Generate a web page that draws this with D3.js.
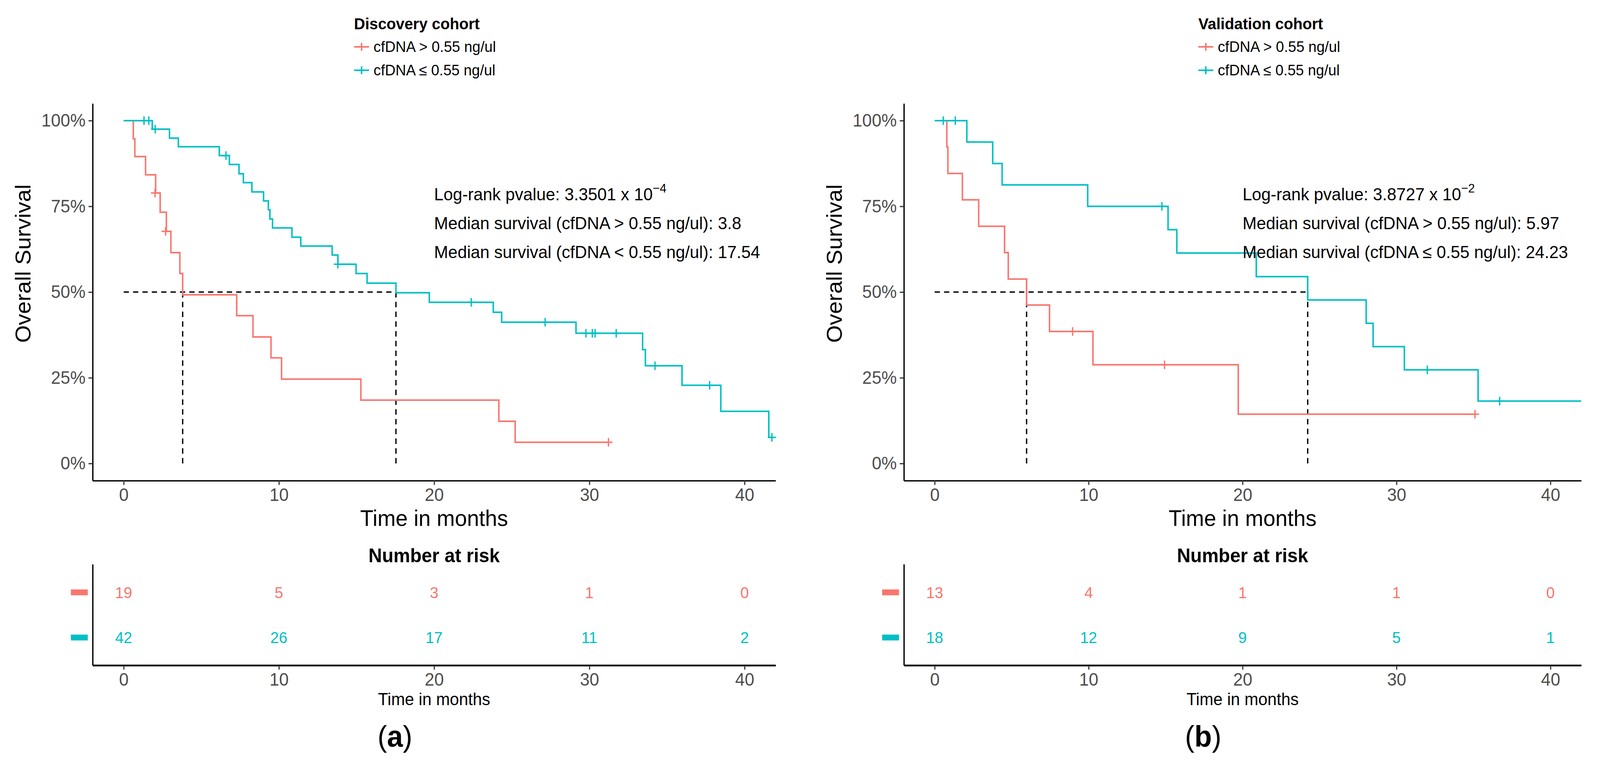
<!DOCTYPE html>
<html>
<head>
<meta charset="utf-8">
<script src="https://cdn.jsdelivr.net/npm/d3@7/dist/d3.min.js"></script>
<style>
html, body { margin: 0; padding: 0; background: #fff; overflow: hidden; }
svg { display: block; width: 100vw; height: 100vh; }
text { font-family: "Liberation Sans", Arial, sans-serif; }
</style>
</head>
<body>
<svg id="chart" viewBox="0 0 4266 1967" preserveAspectRatio="none"></svg>
<script>
// ---- values ----
const groupNames = ["cfDNA > 0.55 ng/ul", "cfDNA \u2264 0.55 ng/ul"];
const groupColors = ["#F8766D", "#00BFC4"];
const yTicks = [0, 25, 50, 75, 100];
const xTicks = [0, 10, 20, 30, 40];

// Discovery cohort, cfDNA > 0.55 (step start times in months, survival %)
const discHighTime = [0, 0.62, 0.72, 1.41, 2.06, 2.35, 2.75, 3.04, 3.62, 3.80, 7.28, 8.33, 9.49, 10.17, 15.28, 24.17, 25.22];
const discHighSurv = [100, 94.7, 89.5, 84.2, 78.9, 73.3, 67.7, 61.5, 55.4, 49.2, 43.1, 36.9, 30.8, 24.6, 18.5, 12.3, 6.2];
const discHighEnd = 31.23;
const discHighCensTime = [2.02, 2.70, 31.23];
const discHighCensSurv = [78.9, 67.7, 6.2];

// Discovery cohort, cfDNA <= 0.55
const discLowTime = [0, 1.84, 2.95, 3.52, 6.16, 6.81, 7.43, 7.71, 8.26, 9.01, 9.32, 9.42, 9.59, 10.84, 11.41, 13.43, 13.80, 14.97, 15.68, 17.54, 19.69, 23.81, 24.35, 29.14, 33.43, 33.61, 35.97, 38.47, 41.56];
const discLowSurv = [100, 97.5, 94.9, 92.4, 89.8, 87.2, 84.5, 81.9, 79.2, 76.6, 74.0, 71.3, 68.7, 66.0, 63.4, 60.8, 58.1, 55.4, 52.6, 49.8, 47.0, 44.1, 41.2, 38.0, 33.2, 28.5, 22.8, 15.2, 7.6];
const discLowEnd = 41.76;
const discLowCensTime = [1.31, 1.62, 2.03, 6.59, 13.80, 22.39, 27.15, 29.78, 30.19, 30.37, 31.73, 34.23, 37.75, 41.76];
const discLowCensSurv = [100, 100, 97.5, 89.8, 58.1, 47.0, 41.2, 38.0, 38.0, 38.0, 38.0, 28.5, 22.8, 7.6];

// Validation cohort, cfDNA > 0.55
const valHighTime = [0, 0.79, 0.86, 1.80, 2.86, 4.54, 4.78, 5.97, 7.46, 10.28, 19.72];
const valHighSurv = [100, 92.3, 84.6, 76.9, 69.2, 61.5, 53.8, 46.2, 38.5, 28.8, 14.4];
const valHighEnd = 35.1;
const valHighCensTime = [8.96, 14.93, 35.1];
const valHighCensSurv = [38.5, 28.8, 14.4];

// Validation cohort, cfDNA <= 0.55
const valLowTime = [0, 2.09, 3.77, 4.38, 9.94, 15.16, 15.73, 20.89, 24.23, 28.03, 28.48, 30.51, 35.30];
const valLowSurv = [100, 93.75, 87.5, 81.25, 75.0, 68.2, 61.4, 54.5, 47.7, 40.9, 34.1, 27.3, 18.2];
const valLowEnd = 42;
const valLowCensTime = [0.56, 1.34, 14.76, 32.0, 36.7];
const valLowCensSurv = [100, 100, 75.0, 27.3, 18.2];

// medians (months)
const discMedians = [3.8, 17.54];
const valMedians = [5.97, 24.23];

// number at risk
const riskTimes = [0, 10, 20, 30, 40];
const discRiskHigh = [19, 5, 3, 1, 0];
const discRiskLow = [42, 26, 17, 11, 2];
const valRiskHigh = [13, 4, 1, 1, 0];
const valRiskLow = [18, 12, 9, 5, 1];

// annotation lines: [text, superscript]
const discNotes = [["Log-rank pvalue: 3.3501 x 10", "\u22124"], ["Median survival (cfDNA > 0.55 ng/ul): 3.8", ""], ["Median survival (cfDNA < 0.55 ng/ul): 17.54", ""]];
const valNotes = [["Log-rank pvalue: 3.8727 x 10", "\u22122"], ["Median survival (cfDNA > 0.55 ng/ul): 5.97", ""], ["Median survival (cfDNA \u2264 0.55 ng/ul): 24.23", ""]];

const svg = d3.select("#chart");

class SurvivalPanel {
    constructor(opts) {
        this.o = opts;
        // same x domain for curve panel and risk table (ggplot 5% expansion of 0..40)
        this.x = d3.scaleLinear().domain([-2, 42]).range([opts.left, opts.right]);
        this.y = d3.scaleLinear().domain([-5, 105]).range([1231, 265]);
        this.g = svg.append("g");
        this.cx = (opts.left + opts.right) / 2;
    }

    draw() {
        this.drawLegend();
        this.drawAxes();
        this.drawMedians();
        this.drawCurves();
        this.drawNotes();
        this.drawRiskTable();
        this.drawTag();
    }

    drawLegend() {
        const lx = this.o.legendX;
        const lg = this.g.append("g");
        lg.append("text").attr("x", lx).attr("y", 75)
            .attr("font-size", 41).attr("font-weight", "bold").text(this.o.title);
        groupNames.forEach((name, i) => {
            const ky = 120 + i * 60;
            lg.append("path")
                .attr("d", `M${lx},${ky}H${lx + 40}M${lx + 20},${ky - 10}V${ky + 10}`)
                .attr("stroke", groupColors[i]).attr("stroke-width", 4).attr("fill", "none");
            lg.append("text").attr("x", lx + 52).attr("y", ky + 13)
                .attr("font-size", 39).attr("fill", "#000").text(name);
        });
    }

    drawAxes() {
        const xAxis = d3.axisBottom(this.x).tickValues(xTicks).tickSize(11).tickSizeOuter(0).tickPadding(8);
        const yAxis = d3.axisLeft(this.y).tickValues(yTicks).tickFormat(d => d + "%").tickSize(11).tickSizeOuter(0).tickPadding(8);

        const gx = this.g.append("g").attr("transform", "translate(0,1231)").call(xAxis);
        const gy = this.g.append("g").attr("transform", `translate(${this.o.left},0)`).call(yAxis);
        [gx, gy].forEach(a => {
            a.select(".domain").attr("stroke", "#000").attr("stroke-width", 3.5);
            a.selectAll(".tick line").attr("stroke", "#333").attr("stroke-width", 3);
            a.selectAll(".tick text").attr("font-size", 46).attr("fill", "#4D4D4D")
                .attr("font-family", "Liberation Sans, Arial, sans-serif");
        });

        this.g.append("text").attr("x", this.cx).attr("y", 1347)
            .attr("text-anchor", "middle").attr("font-size", 58).text("Time in months");
        this.g.append("text")
            .attr("transform", `translate(${this.o.left - 166},675) rotate(-90)`)
            .attr("text-anchor", "middle").attr("font-size", 58).text("Overall Survival");
    }

    drawMedians() {
        const x = this.x, y = this.y;
        const meds = this.o.medians;
        const dash = this.g.append("g").attr("stroke", "#000").attr("stroke-width", 3.5)
            .attr("stroke-dasharray", "14,11").attr("fill", "none");
        dash.append("line").attr("x1", x(0)).attr("x2", x(d3.max(meds))).attr("y1", y(50)).attr("y2", y(50));
        dash.selectAll("line.v").data(meds).enter().append("line").attr("class", "v")
            .attr("x1", d => x(d)).attr("x2", d => x(d)).attr("y1", y(50)).attr("y2", y(0));
    }

    drawCurves() {
        const x = this.x, y = this.y;
        const line = d3.line().x(d => x(d[0])).y(d => y(d[1])).curve(d3.curveStepAfter);
        this.o.curves.forEach((c, i) => {
            const pts = c.time.map((t, k) => [t, c.surv[k]]);
            pts.push([c.end, c.surv[c.surv.length - 1]]);
            this.g.append("path").datum(pts).attr("d", line)
                .attr("fill", "none").attr("stroke", groupColors[i]).attr("stroke-width", 4);
            // censor marks
            this.g.selectAll(null).data(c.censTime.map((t, k) => [t, c.censSurv[k]])).enter()
                .append("path")
                .attr("d", d => `M${x(d[0]) - 11},${y(d[1])}H${x(d[0]) + 11}M${x(d[0])},${y(d[1]) - 11}V${y(d[1]) + 11}`)
                .attr("stroke", groupColors[i]).attr("stroke-width", 3.5);
        });
    }

    drawNotes() {
        const tx = this.x(20);
        this.o.notes.forEach((n, i) => {
            const t = this.g.append("text").attr("x", tx).attr("y", 513 + i * 74).attr("font-size", 45);
            t.append("tspan").text(n[0]);
            if (n[1]) t.append("tspan").attr("dy", -20).attr("font-size", 32).text(n[1]);
        });
    }

    drawRiskTable() {
        const x = this.x;
        const rows = d3.scalePoint().domain([0, 1]).range([1445, 1704]).padding(0.62);
        const rg = this.g.append("g");

        rg.append("text").attr("x", this.cx).attr("y", 1440).attr("text-anchor", "middle")
            .attr("font-size", 50).attr("font-weight", "bold").text("Number at risk");

        const xAxis = d3.axisBottom(x).tickValues(xTicks).tickSize(11).tickSizeOuter(0).tickPadding(8);
        const gx = rg.append("g").attr("transform", "translate(0,1704)").call(xAxis);
        gx.select(".domain").attr("stroke", "#000").attr("stroke-width", 4.5);
        gx.selectAll(".tick line").attr("stroke", "#333").attr("stroke-width", 3);
        gx.selectAll(".tick text").attr("font-size", 46).attr("fill", "#4D4D4D")
            .attr("font-family", "Liberation Sans, Arial, sans-serif");

        const yAxis = d3.axisLeft(rows).tickSize(0).tickFormat("");
        const gy = rg.append("g").attr("transform", `translate(${this.o.left},0)`).call(yAxis);
        gy.select(".domain").attr("stroke", "#000").attr("stroke-width", 3.5);

        this.o.risk.forEach((vals, i) => {
            rg.append("rect").attr("x", this.o.left - 58).attr("y", rows(i) - 7)
                .attr("width", 45).attr("height", 15).attr("fill", groupColors[i]);
            rg.selectAll(null).data(vals).enter().append("text")
                .attr("x", (d, k) => x(riskTimes[k])).attr("y", rows(i) + 15)
                .attr("text-anchor", "middle").attr("font-size", 41).attr("fill", groupColors[i])
                .text(d => d);
        });

        rg.append("text").attr("x", this.cx).attr("y", 1806).attr("text-anchor", "middle")
            .attr("font-size", 44).text("Time in months");
    }

    drawTag() {
        const t = this.g.append("text").attr("x", this.o.tagX).attr("y", 1912)
            .attr("text-anchor", "middle").attr("font-size", 76)
            .attr("font-family", "Liberation Serif, Times New Roman, serif");
        t.append("tspan").text("(");
        t.append("tspan").attr("font-weight", "bold").text(this.o.tag);
        t.append("tspan").text(")");
    }
}

new SurvivalPanel({
    left: 247, right: 2068, legendX: 944, title: "Discovery cohort", tag: "a", tagX: 1053,
    medians: discMedians, notes: discNotes, risk: [discRiskHigh, discRiskLow],
    curves: [
        { time: discHighTime, surv: discHighSurv, end: discHighEnd, censTime: discHighCensTime, censSurv: discHighCensSurv },
        { time: discLowTime, surv: discLowSurv, end: discLowEnd, censTime: discLowCensTime, censSurv: discLowCensSurv }
    ]
}).draw();

new SurvivalPanel({
    left: 2410, right: 4216, legendX: 3195, title: "Validation cohort", tag: "b", tagX: 3208,
    medians: valMedians, notes: valNotes, risk: [valRiskHigh, valRiskLow],
    curves: [
        { time: valHighTime, surv: valHighSurv, end: valHighEnd, censTime: valHighCensTime, censSurv: valHighCensSurv },
        { time: valLowTime, surv: valLowSurv, end: valLowEnd, censTime: valLowCensTime, censSurv: valLowCensSurv }
    ]
}).draw();
</script>
</body>
</html>
